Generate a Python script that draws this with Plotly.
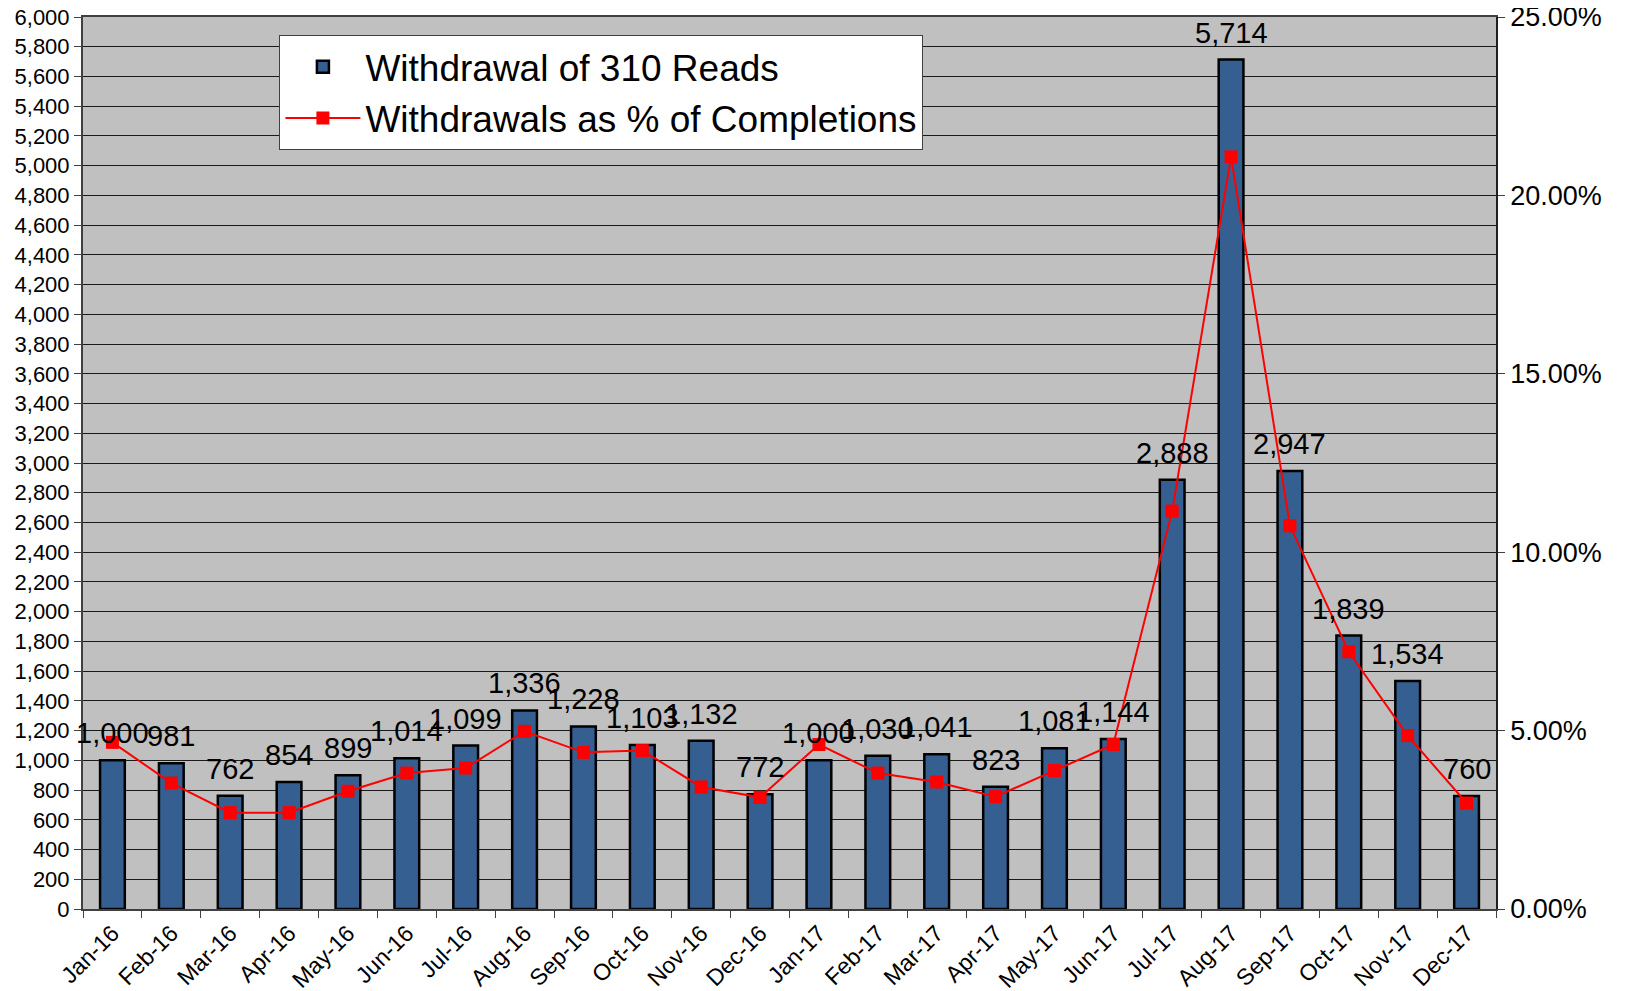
import plotly.graph_objects as go

months = ["Jan-16", "Feb-16", "Mar-16", "Apr-16", "May-16", "Jun-16", "Jul-16", "Aug-16",
          "Sep-16", "Oct-16", "Nov-16", "Dec-16", "Jan-17", "Feb-17", "Mar-17", "Apr-17",
          "May-17", "Jun-17", "Jul-17", "Aug-17", "Sep-17", "Oct-17", "Nov-17", "Dec-17"]
withdrawals = [1000, 981, 762, 854, 899, 1014, 1099, 1336, 1228, 1103, 1132, 772,
               1000, 1030, 1041, 823, 1081, 1144, 2888, 5714, 2947, 1839, 1534, 760]
pct_of_completions = [4.67, 3.53, 2.70, 2.70, 3.30, 3.81, 3.95, 4.98, 4.39, 4.44, 3.42, 3.13,
                      4.61, 3.81, 3.56, 3.15, 3.88, 4.61, 11.15, 21.08, 10.74, 7.21, 4.86, 2.97]

FONT = "Liberation Sans, Arial, sans-serif"

fig = go.Figure()
fig.add_trace(go.Bar(
    x=months, y=withdrawals, name="Withdrawal of 310 Reads",
    marker=dict(color="#365F91", line=dict(color="black", width=2.5)),
    width=0.42,
))
fig.add_trace(go.Scatter(
    x=months, y=pct_of_completions, name="Withdrawals as % of Completions",
    yaxis="y2", mode="lines+markers",
    line=dict(color="#FF0000", width=2),
    marker=dict(symbol="square", size=13, color="#FF0000"),
))

annotations = []
for m, v in zip(months, withdrawals):
    annotations.append(dict(x=m, y=v, xref="x", yref="y", text=f"{v:,}",
                            showarrow=False, yanchor="bottom", yshift=9,
                            font=dict(family=FONT, size=29, color="black")))

fig.update_layout(
    width=1627, height=983,
    margin=dict(l=75, r=139, t=9, b=82),
    paper_bgcolor="white", plot_bgcolor="#C0C0C0",
    font=dict(family=FONT, color="black"),
    showlegend=True,
    legend=dict(x=0.139, y=0.9795, xanchor="left", yanchor="top",
                bgcolor="white", bordercolor="#404040", borderwidth=1,
                font=dict(family=FONT, size=37, color="black"),
                itemwidth=75, tracegroupgap=0),
    xaxis=dict(type="category", range=[-0.5, len(months) - 0.5],
               tickangle=-45, tickfont=dict(size=23),
               ticks="outside", ticklen=7, tickson="boundaries", tickcolor="#404040",
               showline=True, linecolor="#404040", linewidth=1.5, mirror=True,
               showgrid=False, automargin=False, ticklabeloverflow="allow"),
    yaxis=dict(range=[0, 6000], dtick=200, tickformat=",d", tickfont=dict(size=22),
               ticks="outside", ticklen=7, tickcolor="#404040",
               showline=True, linecolor="#404040", linewidth=2,
               showgrid=True, gridcolor="#1a1a1a", gridwidth=1, zeroline=False,
               automargin=False, ticklabeloverflow="allow"),
    yaxis2=dict(range=[0, 25], dtick=5, tickformat=".2f", ticksuffix="%",
                overlaying="y", side="right", tickfont=dict(size=27),
                ticks="outside", ticklen=7, tickcolor="#404040",
                showline=True, linecolor="#202020", linewidth=1.5,
                showgrid=False, zeroline=False, automargin=False,
                ticklabeloverflow="allow"),
    annotations=annotations,
)

fig.write_html("out.html")
